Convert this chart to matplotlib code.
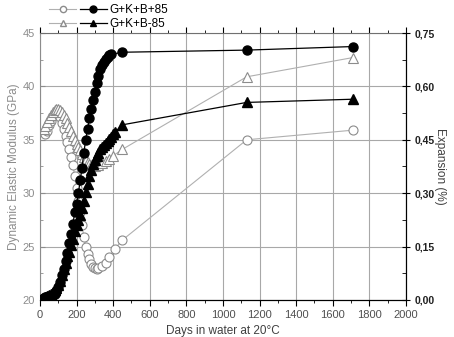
import numpy as np
import matplotlib.pyplot as plt
from matplotlib.ticker import MultipleLocator, FuncFormatter
from matplotlib.legend_handler import HandlerTuple
from matplotlib.lines import Line2D

plt.rcParams['font.family'] = ['Liberation Sans', 'DejaVu Sans']

# dynamic modulus (GPa), G+K+B+85, open circles
days_mod_p = [30, 40, 50, 60, 70, 80, 90, 100, 110, 120, 130, 140, 150, 160, 170, 180,
              190, 200, 210, 220, 230, 240, 250, 260, 270, 280, 290, 300, 310, 320, 340,
              360, 380, 410, 450, 1130, 1710]
mod_p = [35.5, 35.8, 36.4, 36.8, 37.2, 37.4, 37.5, 37.4, 37.1, 36.6, 36.0, 35.4, 34.8,
         34.1, 33.4, 32.6, 31.6, 30.5, 29.3, 28.2, 27.0, 25.9, 25.0, 24.3, 23.8, 23.4,
         23.1, 23.0, 22.9, 23.0, 23.2, 23.5, 24.0, 24.8, 25.6, 35.0, 35.9]

# dynamic modulus (GPa), G+K+B-85, open triangles
days_mod_m = [20, 30, 40, 50, 60, 70, 80, 90, 100, 110, 120, 130, 140, 150, 160, 170,
              180, 190, 200, 210, 220, 230, 240, 250, 260, 270, 280, 290, 300, 320, 340,
              360, 380, 400, 450, 1130, 1710]
mod_m = [36.0, 36.3, 36.7, 37.0, 37.3, 37.6, 37.8, 37.9, 37.9, 37.8, 37.6, 37.3, 37.0,
         36.6, 36.2, 35.8, 35.4, 35.0, 34.6, 34.3, 34.0, 33.7, 33.4, 33.1, 32.9, 32.7,
         32.6, 32.5, 32.5, 32.6, 32.8, 33.0, 33.2, 33.5, 34.1, 40.9, 42.7]

# expansion (%), G+K+B+85, filled circles
days_exp_p = [0, 10, 20, 30, 40, 50, 60, 70, 80, 90, 100, 110, 120, 130, 140, 150, 160,
              170, 180, 190, 200, 210, 220, 230, 240, 250, 260, 270, 280, 290, 300, 310,
              320, 330, 340, 350, 360, 370, 380, 390, 450, 1130, 1710]
exp_p = [0.000, 0.003, 0.006, 0.009, 0.009, 0.012, 0.012, 0.015, 0.018, 0.024, 0.036,
         0.051, 0.069, 0.087, 0.108, 0.132, 0.159, 0.186, 0.213, 0.246, 0.270, 0.300,
         0.336, 0.372, 0.414, 0.450, 0.480, 0.510, 0.537, 0.561, 0.585, 0.609, 0.630,
         0.648, 0.660, 0.669, 0.678, 0.684, 0.687, 0.690, 0.696, 0.702, 0.712]

# expansion (%), G+K+B-85, filled triangles
days_exp_m = [0, 10, 20, 30, 40, 50, 60, 70, 80, 90, 100, 110, 120, 130, 140, 150, 160,
              170, 180, 190, 200, 210, 220, 230, 240, 250, 260, 270, 280, 290, 300, 310,
              320, 330, 340, 350, 360, 370, 380, 390, 400, 410, 450, 1130, 1710]
exp_m = [0.000, 0.003, 0.006, 0.009, 0.012, 0.015, 0.018, 0.021, 0.027, 0.033, 0.042,
         0.054, 0.069, 0.087, 0.105, 0.123, 0.135, 0.153, 0.171, 0.195, 0.210, 0.225,
         0.240, 0.258, 0.279, 0.303, 0.327, 0.348, 0.366, 0.381, 0.393, 0.405, 0.414,
         0.423, 0.429, 0.435, 0.441, 0.447, 0.453, 0.459, 0.465, 0.471, 0.492, 0.555,
         0.564]

gray = '#8c8c8c'
fig = plt.figure(figsize=(4.54, 3.37), dpi=100)
ax = fig.add_axes([0.088, 0.110, 0.806, 0.792])
ax2 = ax.twinx()

l1, = ax.plot(days_mod_p, mod_p, '-o', color='#b0b0b0', lw=0.8, ms=6.5,
              mfc='white', mec=gray, mew=0.8)
l2, = ax.plot(days_mod_m, mod_m, '-^', color='#b0b0b0', lw=0.8, ms=6.5,
              mfc='white', mec=gray, mew=0.8)
l3, = ax2.plot(days_exp_p, exp_p, '-o', color='black', lw=0.9, ms=6.5, mfc='black',
               mec='black')
l4, = ax2.plot(days_exp_m, exp_m, '-^', color='black', lw=0.9, ms=6.5, mfc='black',
               mec='black')

ax.set_xlim(0, 2000)
ax.set_ylim(20, 45)
ax2.set_ylim(0, 0.75)
ax.xaxis.set_major_locator(MultipleLocator(200))
ax.xaxis.set_minor_locator(MultipleLocator(100))
ax.yaxis.set_major_locator(MultipleLocator(5))
ax.yaxis.set_minor_locator(MultipleLocator(2.5))
ax2.yaxis.set_major_locator(MultipleLocator(0.15))
ax2.yaxis.set_minor_locator(MultipleLocator(0.075))
ax2.yaxis.set_major_formatter(FuncFormatter(lambda v, p: ('%.2f' % v).replace('.', ',')))

ax.grid(True, which='major', color='#a8a8a8', lw=0.8)
ax.set_axisbelow(True)

ax.tick_params(axis='x', which='both', direction='out', colors='black',
               labelcolor='#505050', labelsize=8, top=True)
ax.tick_params(axis='x', which='major', length=4)
ax.tick_params(axis='x', which='minor', length=2)
ax.tick_params(axis='y', which='both', direction='in', colors=gray,
               labelcolor=gray, labelsize=8)
ax2.tick_params(axis='y', which='major', direction='inout', length=6, labelsize=7.5)
ax2.tick_params(axis='y', which='minor', direction='in', length=3)
for lab in ax2.get_yticklabels():
    lab.set_fontweight('bold')
    lab.set_color('#202020')

ax.spines['left'].set_color(gray)
ax.spines['top'].set_color('#707070')
ax2.spines['left'].set_visible(False)
ax2.spines['top'].set_visible(False)

ax.set_xlabel('Days in water at 20°C', fontsize=8.5, color='#404040', labelpad=3)
ax.set_ylabel('Dynamic Elastic Modulus (GPa)', fontsize=8.5, color=gray, labelpad=2)
ax2.set_ylabel('Expansion (%)', fontsize=8.5, color='#404040', rotation=270, labelpad=8)

h1 = (Line2D([], [], color='#b0b0b0', lw=0.8, marker='o', ms=4.5, mfc='white', mec=gray),
      Line2D([], [], color='black', lw=0.9, marker='o', ms=5, mfc='black'))
h2 = (Line2D([], [], color='#b0b0b0', lw=0.8, marker='^', ms=4.5, mfc='white', mec=gray),
      Line2D([], [], color='black', lw=0.9, marker='^', ms=5, mfc='black'))
fig.legend([h1, h2], ['G+K+B+85', 'G+K+B-85'],
           handler_map={tuple: HandlerTuple(ndivide=None, pad=0.3)},
           loc='upper left', bbox_to_anchor=(0.098, 1.003), frameon=False,
           handlelength=4.9, handletextpad=0.2, labelspacing=0.22, fontsize=8.5,
           borderaxespad=0, numpoints=1)

fig.savefig('out.png', dpi=100)
